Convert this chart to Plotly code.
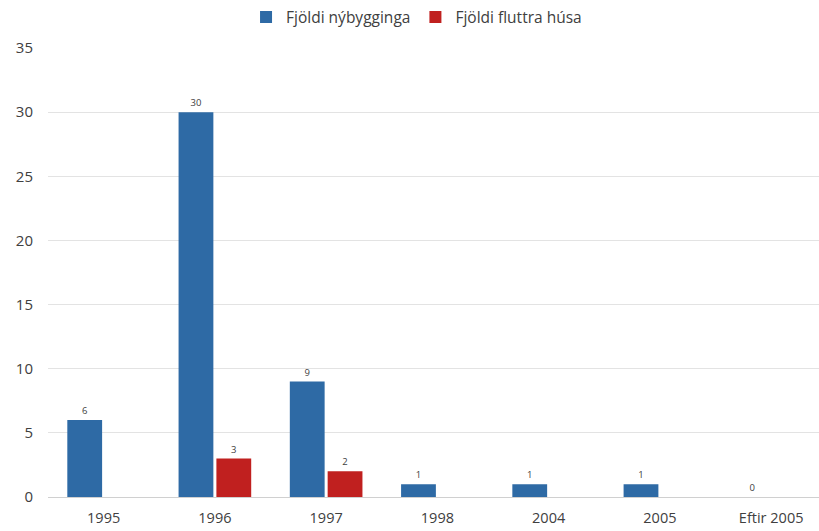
import plotly.graph_objects as go

categories = ["1995", "1996", "1997", "1998", "2004", "2005", "Eftir 2005"]
nybygginga = [6, 30, 9, 1, 1, 1, 0]
fluttra = [None, 3, 2, None, None, None, None]
y_ticks = [0, 5, 10, 15, 20, 25, 30, 35]

blue = "#2E6AA5"
red = "#C0201F"
txt = "#404040"
font_family = "'Open Sans', Lato, sans-serif"

fig = go.Figure()
fig.add_trace(go.Bar(
    x=categories, y=nybygginga, name="Fjöldi nýbygginga",
    marker=dict(color=blue, line=dict(width=0)),
    text=[str(v) for v in nybygginga], textposition="outside",
    textfont=dict(size=9.5, color=txt), cliponaxis=False,
))
fig.add_trace(go.Bar(
    x=categories, y=fluttra, name="Fjöldi fluttra húsa",
    marker=dict(color=red, line=dict(width=0)),
    text=["" if v is None else str(v) for v in fluttra], textposition="outside",
    textfont=dict(size=9.5, color=txt), cliponaxis=False,
))

fig.update_layout(
    width=819, height=531,
    margin=dict(l=48, r=0, t=48, b=34, autoexpand=False),
    paper_bgcolor="white", plot_bgcolor="white",
    font=dict(family=font_family, size=14, color=txt),
    barmode="group", bargap=0.32, bargroupgap=0.08,
    showlegend=True,
    legend=dict(orientation="h", x=0.478, xanchor="center", y=1.068, yanchor="middle",
                font=dict(size=15.5, color=txt), traceorder="normal",
                itemwidth=30, tracegroupgap=0),
    xaxis=dict(type="category", range=[-0.5, 6.43], showgrid=False, ticks="",
               showline=False, tickfont=dict(size=14.5, color=txt),
               ticklabelstandoff=10, automargin=False),
    yaxis=dict(range=[0, 35], tickvals=y_ticks, showgrid=True, gridcolor="#E3E3E3",
               gridwidth=1, zeroline=True, zerolinecolor="#D0D0D0", zerolinewidth=1,
               ticks="", showline=False, tickfont=dict(size=15, color=txt),
               ticklabelstandoff=14, automargin=False),
)

fig.write_html("out.html", config={"displayModeBar": False},
               post_script="document.body.style.margin='0';")
